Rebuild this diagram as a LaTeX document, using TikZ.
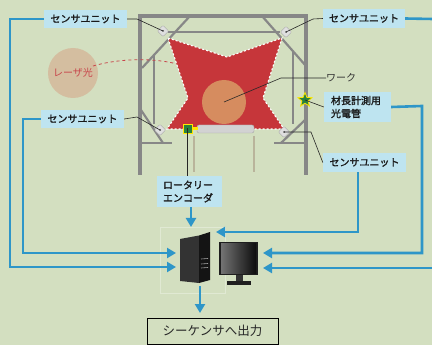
\documentclass[tikz,border=0pt]{standalone}
\usepackage{fontspec}
\setmainfont{Noto Sans CJK JP}
\newfontfamily\lblfont{Noto Sans CJK JP}[FakeBold=1.6]
\usetikzlibrary{arrows.meta,shapes.geometric}
\definecolor{bg}{RGB}{211,223,192}
\definecolor{lblue}{RGB}{190,228,240}
\definecolor{wire}{RGB}{46,150,200}
\definecolor{framegray}{RGB}{135,135,135}
\definecolor{beam}{RGB}{198,54,58}
\definecolor{workc}{RGB}{214,140,95}
\definecolor{laserc}{RGB}{212,190,160}
\definecolor{laserred}{RGB}{200,70,75}
\definecolor{encg}{RGB}{40,130,60}
\definecolor{legc}{RGB}{185,180,155}
\begin{document}
\begin{tikzpicture}[x=1pt,y=-1pt,
  lbl/.style={fill=lblue, inner sep=0pt, font=\fontsize{10}{13}\selectfont\lblfont, text=black!90},
  conn/.style={draw=wire, line width=2.6pt},
  tip/.style={conn, -{Triangle[length=9pt,width=10pt]}},
  lead/.style={draw=black!85, line width=0.6pt},
  bar/.style={draw=framegray, line width=4pt},
  thinbar/.style={draw=framegray, line width=2.2pt},
  sensor/.style={draw=gray!70, fill=gray!25, rounded corners=1pt, minimum size=8pt, inner sep=0pt, rotate=45},
]
% background
\fill[bg] (0,0) rectangle (432,345);
\useasboundingbox (0,0) rectangle (432,345);

% frame
\draw[bar] (140,175) -- (140,16) -- (306,16) -- (306,175);
\draw[thinbar] (142,68) -- (190,16);
\draw[thinbar] (262,16) -- (306,66);
\draw[thinbar] (168,32) -- (280,32);
\draw[thinbar] (154,56) -- (154,124);
\draw[thinbar] (293,52) -- (293,124);
\draw[thinbar] (141,110) -- (163,143);
\draw[thinbar] (140,143) -- (172,143);
\draw[thinbar] (305,120) -- (281,143);
\draw[thinbar] (274,143) -- (306,143);

% beam field
\draw[fill=beam, draw=white, line width=1.1pt, dash pattern=on 2pt off 2pt]
  (168,38) -- (227,57) -- (282,38) -- (263,98) -- (284,129) -- (167,129) -- (188,98) -- cycle;
% workpiece
\node[circle, fill=workc, minimum size=44pt, inner sep=0pt] (wk) at (224,102) {};

% conveyor roller and legs
\draw[legc, line width=2pt] (194,136) -- (194,172);
\draw[legc, line width=2pt] (254,136) -- (254,172);
\draw[draw=gray!70, fill=gray!35, rounded corners=2pt] (197,125) rectangle (254,133);
% rotary encoder
\fill[yellow!90!orange] (192,127) rectangle (198,130.5);
\node[draw=yellow!90!orange, fill=encg, minimum size=9pt, inner sep=0pt, line width=0.8pt] (encd) at (187.5,128.5) {};

% sensors
\node[sensor] (s1) at (163,31) {};
\node[sensor] (s2) at (286,32) {};
\node[sensor] (s3) at (160,130) {};
\node[sensor] (s4) at (284,132) {};
\foreach \s in {s1,s2,s3,s4} \fill[black!70] (\s.center) circle (1pt);

% photoelectric sensor
\node[star, star points=5, star point ratio=2.3, fill=encg, draw=yellow!90!orange, line width=0.8pt, minimum size=15pt, inner sep=0pt] (pe) at (305,100) {};

% laser
\node[circle, fill=laserc, minimum size=50pt, inner sep=0pt, text=laserred, font=\fontsize{10}{12}\selectfont] (lz) at (73,73) {レーザ光};
\draw[laserred, dashed, line width=0.8pt] (93,66) .. controls (120,58) and (155,58) .. (177,64);

% labels
\node[lbl, minimum width=83pt, minimum height=18pt] (sTL) at (85.5,19) {センサユニット};
\node[lbl, minimum width=82pt, minimum height=19pt] (sTR) at (364,18.5) {センサユニット};
\node[lbl, minimum width=83pt, minimum height=18pt] (sML) at (82.5,119) {センサユニット};
\node[lbl, minimum width=83pt, minimum height=19pt] (sBR) at (364.5,162.5) {センサユニット};
\node[lbl, minimum width=67pt, minimum height=30pt, align=left, text width=53pt, inner xsep=7pt] (photo) at (357.5,107) {材長計測用\\光電管};
\node[lbl, minimum width=65pt, minimum height=31pt, align=left, text width=53pt, inner xsep=6pt] (enc) at (189.5,191.5) {ロータリー\\エンコーダ};
\node[anchor=west, inner sep=0pt, font=\fontsize{10}{12}\selectfont, text=black!80] (wl) at (326,78) {ワーク};
\node[draw=black, line width=0.9pt, minimum width=131pt, minimum height=26pt, inner sep=0pt, font=\fontsize{12.5}{14}\selectfont, text=black!85] (out) at (212.5,331) {シーケンサへ出力};

% leader lines
\draw[lead] (sTL.east) -- (137,19) -- (s1.center);
\draw[lead] (sTR.west) -- (313,19) -- (s2.center);
\draw[lead] (sML.east) -- (137,117) -- (s3.center);
\draw[lead] (sBR.west) -- (311,132) -- (s4.center);
\draw[lead] (wl.west) -- (281,78) -- (wk.center);
\draw[lead] (pe.center) -- (photo.west);
\draw[lead] (encd.center) -- (enc.north -| encd.center);

% computer
\draw[white!30!bg, line width=0.5pt] (160,227) rectangle (225,293);
\fill[black!80] (180,239) -- (199,235.5) -- (199,283) -- (180,281) -- cycle;
\fill[black!92] (199,235.5) -- (210,232) -- (210,280) -- (199,283) -- cycle;
\draw[gray!70, line width=0.6pt] (201,259) -- (208,258.5) (201,264) -- (208,263.5) (201,268) -- (208,267.5);
\node[fill=black!88, minimum width=39pt, minimum height=33pt, inner sep=0pt] (mon) at (238.5,258.5) {};
\shade[left color=black!55, right color=black!95] (221,244) rectangle (256,273);
\fill[black!80] (236,275) rectangle (243,281);
\fill[black!88] (227,281) rectangle (251,285);
\coordinate (inL1) at (176,253);
\coordinate (inL2) at (176,267);
\coordinate (inR1) at (263,253);
\coordinate (inR2) at (263,268);
\coordinate (inTop) at (191,227);
\coordinate (inTR) at (216,232);
\coordinate (pcOut) at (200,286);
\coordinate (outTip) at (200,313);
\coordinate (edgeA) at (433,19);
\coordinate (edgeB) at (433,268);

% signal wiring
\draw[tip] (sTL.west) -- (10,19) -- (10,267) -- (inL2);
\draw[tip] (sML.west) -- (23,119) -- (23,253) -- (inL1);
\draw[conn] (sTR.east) -- (edgeA);
\draw[tip] (edgeB) -- (inR2);
\draw[tip] (photo.east) -- (422,106) -- (422,253) -- (inR1);
\draw[tip] ([xshift=-6.5pt]sBR.south) -- (358,232) -- (inTR);
\draw[tip] (enc.south -| inTop) -- (inTop);
\draw[tip] (pcOut) -- (outTip);
\end{tikzpicture}
\end{document}
